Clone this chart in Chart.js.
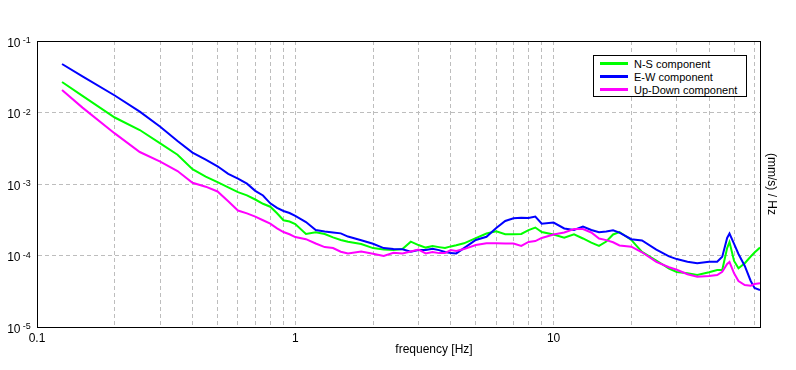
<!DOCTYPE html>
<html>
<head>
<meta charset="utf-8">
<script src="https://cdn.jsdelivr.net/npm/chart.js@4.4.0/dist/chart.umd.min.js"></script>
<style>
  body { margin: 0; background: #fff; }
  #wrap { position: relative; width: 796px; height: 370px; }
  #legend {
    position: absolute; left: 593px; top: 55px; width: 152px; height: 39px;
    padding-top: 1px; border: 1px solid #000; background: #fff;
    font: 11px "Liberation Sans", Arial, sans-serif; color: #000;
  }
  #legend .row { display: flex; align-items: center; height: 13px; white-space: nowrap; }
  #legend .swatch { width: 28px; height: 3px; margin: 0 6px 0 6px; }
</style>
</head>
<body>
<div id="wrap">
  <canvas id="psd" width="796" height="370"></canvas>
  <div id="legend"></div>
</div>
<script>
// frequency points (Hz)
const freqs = [0.125, 0.15, 0.2, 0.25, 0.3, 0.35, 0.4, 0.45, 0.5, 0.55,
  0.6, 0.65, 0.7, 0.75, 0.8, 0.85, 0.9, 0.95, 1.0, 1.1,
  1.2, 1.3, 1.4, 1.5, 1.6, 1.8, 2.0, 2.2, 2.4, 2.6,
  2.8, 3.0, 3.2, 3.4, 3.6, 3.8, 4.0, 4.2, 4.5, 5.0,
  5.5, 6.0, 6.5, 7.0, 7.5, 8.0, 8.5, 9.0, 10, 11,
  12, 13, 14, 15, 16, 17, 18, 20, 22, 25,
  28, 30, 33, 36, 40, 43, 45, 47, 48, 50,
  52, 55, 58, 60, 63];

const nsValues = [2.67e-2, 1.71e-2, 8.51e-3, 5.69e-3, 3.71e-3, 2.57e-3, 1.61e-3, 1.27e-3, 1.06e-3, 8.99e-4,
  7.68e-4, 6.93e-4, 6.07e-4, 5.29e-4, 4.81e-4, 3.89e-4, 3.11e-4, 2.99e-4, 2.76e-4, 2.00e-4,
  2.11e-4, 2.00e-4, 1.79e-4, 1.65e-4, 1.56e-4, 1.45e-4, 1.27e-4, 1.21e-4, 1.19e-4, 1.23e-4,
  1.56e-4, 1.40e-4, 1.29e-4, 1.36e-4, 1.31e-4, 1.27e-4, 1.34e-4, 1.39e-4, 1.48e-4, 1.75e-4,
  2.03e-4, 2.18e-4, 1.99e-4, 1.98e-4, 2.00e-4, 2.27e-4, 2.46e-4, 2.13e-4, 1.97e-4, 1.77e-4,
  1.98e-4, 1.73e-4, 1.51e-4, 1.36e-4, 1.57e-4, 1.97e-4, 2.13e-4, 1.65e-4, 1.12e-4, 8.51e-5,
  6.58e-5, 5.88e-5, 5.64e-5, 5.34e-5, 5.84e-5, 6.27e-5, 6.27e-5, 1.27e-4, 1.54e-4, 8.38e-5,
  6.62e-5, 7.8e-5, 9.68e-5, 1.10e-4, 1.29e-4];

const ewValues = [4.77e-2, 3.20e-2, 1.73e-2, 1.03e-2, 6.33e-3, 3.99e-3, 2.75e-3, 2.19e-3, 1.77e-3, 1.39e-3,
  1.19e-3, 1.01e-3, 8.03e-4, 6.91e-4, 5.37e-4, 4.63e-4, 4.19e-4, 3.93e-4, 3.57e-4, 2.94e-4,
  2.27e-4, 2.17e-4, 2.10e-4, 2.04e-4, 1.84e-4, 1.63e-4, 1.46e-4, 1.27e-4, 1.23e-4, 1.22e-4,
  1.13e-4, 1.19e-4, 1.19e-4, 1.24e-4, 1.19e-4, 1.12e-4, 1.08e-4, 1.07e-4, 1.27e-4, 1.65e-4,
  1.83e-4, 2.42e-4, 3.04e-4, 3.31e-4, 3.37e-4, 3.35e-4, 3.51e-4, 2.79e-4, 2.89e-4, 2.39e-4,
  2.27e-4, 2.54e-4, 2.27e-4, 2.11e-4, 2.16e-4, 2.25e-4, 2.09e-4, 1.69e-4, 1.62e-4, 1.21e-4,
  9.74e-5, 8.91e-5, 8.19e-5, 7.78e-5, 8.19e-5, 8.19e-5, 9.62e-5, 1.76e-4, 2.03e-4, 1.45e-4,
  1.05e-4, 7.13e-5, 4.40e-5, 3.51e-5, 3.29e-5];

const udValues = [2.06e-2, 1.17e-2, 5.10e-3, 2.80e-3, 2.05e-3, 1.52e-3, 1.04e-3, 9.17e-4, 7.86e-4, 5.73e-4,
  4.25e-4, 3.88e-4, 3.50e-4, 3.11e-4, 2.79e-4, 2.40e-4, 2.13e-4, 1.98e-4, 1.81e-4, 1.69e-4,
  1.47e-4, 1.31e-4, 1.27e-4, 1.13e-4, 1.07e-4, 1.14e-4, 1.06e-4, 9.84e-5, 1.09e-4, 1.07e-4,
  1.14e-4, 1.21e-4, 1.07e-4, 1.12e-4, 1.08e-4, 1.08e-4, 1.19e-4, 1.16e-4, 1.23e-4, 1.40e-4,
  1.48e-4, 1.48e-4, 1.47e-4, 1.47e-4, 1.36e-4, 1.55e-4, 1.59e-4, 1.76e-4, 1.97e-4, 2.10e-4,
  2.35e-4, 2.35e-4, 2.10e-4, 1.73e-4, 1.64e-4, 1.53e-4, 1.38e-4, 1.33e-4, 1.11e-4, 8.16e-5,
  6.86e-5, 6.31e-5, 5.46e-5, 5.05e-5, 5.17e-5, 5.34e-5, 5.93e-5, 7.60e-5, 8.11e-5, 5.64e-5,
  4.40e-5, 3.87e-5, 3.78e-5, 3.99e-5, 4.08e-5];

const seriesNames = ["N-S component", "E-W component", "Up-Down component"];
const seriesColors = ["#00ff00", "#0000ff", "#ff00ff"];

// axis ticks
const xGridVals = [0.1, 0.2, 0.3, 0.4, 0.5, 0.6, 0.7, 0.8, 0.9,
  1, 2, 3, 4, 5, 6, 7, 8, 9, 10, 20, 30, 40, 50, 60];
const xLabelVals = [0.1, 1, 10];
const xLabelText = ["0.1", "1", "10"];
const yTickVals = [1e-5, 1e-4, 1e-3, 1e-2, 1e-1];
const yExpText = ["-5", "-4", "-3", "-2", "-1"];

const FONT = '"Liberation Sans", Arial, sans-serif';
Chart.defaults.font.family = FONT;
Chart.defaults.color = "#000";

// legend (html box top right)
const legendEl = document.getElementById("legend");
seriesNames.forEach((name, i) => {
  const row = document.createElement("div");
  row.className = "row";
  row.innerHTML = '<span class="swatch" style="background:' + seriesColors[i] + '"></span>' + name;
  legendEl.appendChild(row);
});

// "10" + raised exponent for the y labels, x title a bit right of centre
const extraText = {
  id: "extraText",
  afterDraw(chart) {
    const { ctx, chartArea } = chart;
    const ys = chart.scales.y;
    ctx.save();
    ctx.fillStyle = "#000";
    ctx.textBaseline = "alphabetic";
    yTickVals.forEach((v, i) => {
      const py = ys.getPixelForValue(v);
      ctx.font = "12px " + FONT;
      ctx.textAlign = "right";
      ctx.fillText("10", chartArea.left - 16.5, py + 5.6);
      ctx.font = "9px " + FONT;
      ctx.textAlign = "left";
      ctx.fillText(yExpText[i], chartArea.left - 14.3, py + 2.4);
    });
    ctx.font = "12px " + FONT;
    ctx.textAlign = "center";
    ctx.textBaseline = "middle";
    ctx.fillText("frequency [Hz]", chartArea.left + 397, chartArea.bottom + 23);
    ctx.restore();
  }
};

const allValues = [nsValues, ewValues, udValues];
const gridColor = "#bdbdbd";

new Chart(document.getElementById("psd").getContext("2d"), {
  type: "line",
  data: {
    datasets: seriesNames.map((name, i) => ({
      label: name,
      data: freqs.map((f, j) => ({ x: f, y: allValues[i][j] })),
      borderColor: seriesColors[i],
      borderWidth: 2,
      pointRadius: 0,
      tension: 0,
      fill: false,
      order: 3 - i
    }))
  },
  options: {
    responsive: false,
    animation: false,
    layout: { padding: 0 },
    plugins: { legend: { display: false }, tooltip: { enabled: false } },
    scales: {
      x: {
        type: "logarithmic", position: "bottom", min: 0.1, max: 63,
        afterBuildTicks: s => { s.ticks = xGridVals.map(v => ({ value: v })); },
        afterFit: s => { s.height = 43; },
        grid: { color: gridColor, drawTicks: false },
        border: { color: "#000", width: 1, dash: [4, 3] },
        ticks: {
          autoSkip: false, maxRotation: 0, padding: 4, font: { size: 12 },
          callback: v => { const i = xLabelVals.indexOf(v); return i < 0 ? "" : xLabelText[i]; }
        }
      },
      x2: {
        type: "linear", position: "top", min: 0, max: 1,
        grid: { display: false, drawTicks: false },
        ticks: { display: false },
        border: { color: "#000", width: 1 },
        afterFit: s => { s.height = 41; }
      },
      y: {
        type: "logarithmic", position: "left", min: 1e-5, max: 1e-1,
        afterBuildTicks: s => { s.ticks = yTickVals.map(v => ({ value: v })); },
        afterFit: s => { s.width = 37; },
        grid: { color: gridColor, drawTicks: false },
        border: { color: "#000", width: 1, dash: [4, 3] },
        ticks: { display: false }
      },
      y2: {
        type: "linear", position: "right", min: 0, max: 1,
        grid: { display: false, drawTicks: false },
        ticks: { display: false },
        border: { color: "#000", width: 1 },
        afterFit: s => { s.width = 36; },
        title: { display: true, text: "(mm/s) / Hz", font: { size: 12 }, padding: { top: 17, bottom: 0 } }
      }
    }
  },
  plugins: [extraText]
});
</script>
</body>
</html>
